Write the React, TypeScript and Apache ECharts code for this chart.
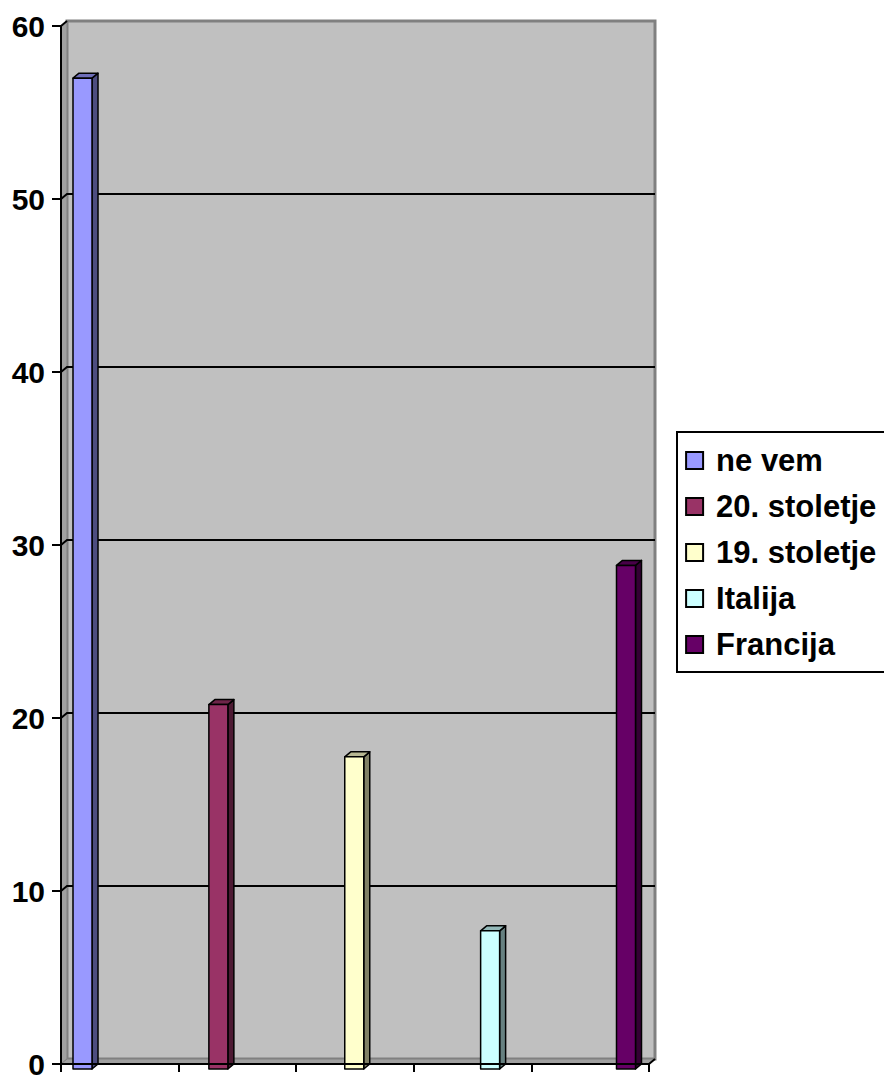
import React, { useEffect, useRef } from 'react';
import * as echarts from 'echarts';

const categories = ['ne vem', '20. stoletje', '19. stoletje', 'Italija', 'Francija'];
const values = [57, 21, 18, 8, 29];
const colors = ['#9999FF', '#993366', '#FFFFCC', '#CCFFFF', '#660066'];
const gridValues = [10, 20, 30, 40, 50];

const DX = 6;
const DY = -5;
const BAR_W = 19;
const FONT = '"Liberation Sans", Arial, sans-serif';

function shade(hex: string, f: number): string {
  const n = parseInt(hex.slice(1), 16);
  const r = Math.round(((n >> 16) & 255) * f);
  const g = Math.round(((n >> 8) & 255) * f);
  const b = Math.round((n & 255) * f);
  return 'rgb(' + r + ',' + g + ',' + b + ')';
}

export default function App() {
  const ref = useRef<HTMLDivElement>(null);
  useEffect(() => {
    document.body.style.margin = '0';
    const chart = echarts.init(ref.current!, null, { renderer: 'svg' });

    const wallSeries: any = {
      type: 'custom',
      xAxisIndex: 0,
      yAxisIndex: 0,
      z: 1,
      silent: true,
      clip: false,
      data: [[0, 0]],
      renderItem: (params: any, api: any) => {
        const cs = params.coordSys;
        const x0 = cs.x;
        const x1 = cs.x + cs.width;
        const yT = cs.y;
        const yB = cs.y + cs.height;
        const children: any[] = [];
        children.push({
          type: 'rect',
          shape: { x: x0 + DX, y: yT + DY, width: cs.width, height: cs.height },
          style: { fill: '#C0C0C0', stroke: '#808080', lineWidth: 3 },
        });
        children.push({
          type: 'polygon',
          shape: { points: [[x0, yT], [x0 + DX, yT + DY], [x0 + DX, yB + DY], [x0, yB]] },
          style: { fill: '#A0A0A0', stroke: '#808080', lineWidth: 1 },
        });
        children.push({
          type: 'polygon',
          shape: { points: [[x0, yB], [x0 + DX, yB + DY], [x1 + DX, yB + DY], [x1, yB]] },
          style: { fill: '#A0A0A0', stroke: '#808080', lineWidth: 1 },
        });
        gridValues.forEach((v) => {
          const y = api.coord([0, v])[1];
          children.push({
            type: 'polyline',
            shape: { points: [[x0, y], [x0 + DX, y + DY], [x1 + DX, y + DY]] },
            style: { stroke: '#000', lineWidth: 2, fill: 'none' },
          });
        });
        children.push({
          type: 'line',
          shape: { x1: x0, y1: yT, x2: x0 + DX, y2: yT + DY },
          style: { stroke: '#000', lineWidth: 2 },
        });
        children.push({
          type: 'line',
          shape: { x1: x1, y1: yB, x2: x1 + DX, y2: yB + DY },
          style: { stroke: '#000', lineWidth: 2 },
        });
        return { type: 'group', children };
      },
    };

    const barSeries: any[] = categories.map((name, i) => ({
      type: 'custom',
      name,
      xAxisIndex: 1,
      yAxisIndex: 1,
      z: 3,
      clip: false,
      itemStyle: { color: colors[i], borderColor: '#000', borderWidth: 2 },
      data: [[i, values[i]]],
      renderItem: (params: any, api: any) => {
        const idx = api.value(0);
        const v = api.value(1);
        const top = api.coord([idx, v]);
        const bot = api.coord([idx, 0]);
        const xl = top[0] - BAR_W / 2;
        const xr = top[0] + BAR_W / 2;
        const yt = top[1];
        const yb = bot[1] - 1;
        const c = colors[i];
        const edge = { stroke: '#000', lineWidth: 1.5, lineJoin: 'round' };
        return {
          type: 'group',
          children: [
            {
              type: 'polygon',
              shape: { points: [[xr, yt], [xr + DX, yt + DY], [xr + DX, yb + DY], [xr, yb]] },
              style: { fill: shade(c, 0.5), ...edge },
            },
            {
              type: 'polygon',
              shape: { points: [[xl, yt], [xl + DX, yt + DY], [xr + DX, yt + DY], [xr, yt]] },
              style: { fill: shade(c, 0.72), ...edge },
            },
            {
              type: 'rect',
              shape: { x: xl, y: yt, width: BAR_W, height: yb - yt },
              style: { fill: c, ...edge },
            },
          ],
        };
      },
    }));

    const rich: any = {
      t: {
        fontSize: 31,
        fontWeight: 'bold',
        color: '#000',
        fontFamily: FONT,
        lineHeight: 30,
        padding: [0, 0, 0, 14],
      },
    };
    categories.forEach((_, i) => {
      rich['b' + i] = {
        width: 15,
        height: 15,
        backgroundColor: colors[i],
        borderColor: '#000',
        borderWidth: 2,
      };
    });

    const option: any = {
      animation: false,
      backgroundColor: '#ffffff',
      grid: [
        { left: 61, right: 235, top: 26, bottom: 9 },
        { left: 82.5, right: 258, top: 26, bottom: 9 },
      ],
      xAxis: [
        {
          gridIndex: 0,
          type: 'value',
          min: 0,
          max: 5,
          interval: 1,
          z: 5,
          axisLine: { show: true, lineStyle: { color: '#000', width: 2 } },
          axisTick: { show: true, length: 8, lineStyle: { color: '#000', width: 2 } },
          axisLabel: { show: false },
          splitLine: { show: false },
        },
        {
          gridIndex: 1,
          type: 'category',
          data: categories,
          boundaryGap: false,
          show: false,
        },
      ],
      yAxis: [
        {
          gridIndex: 0,
          type: 'value',
          min: 0,
          max: 60,
          interval: 10,
          z: 5,
          axisLine: { show: true, lineStyle: { color: '#000', width: 2 } },
          axisTick: { show: true, length: 9, lineStyle: { color: '#000', width: 2 } },
          axisLabel: {
            fontSize: 30,
            fontWeight: 'bold',
            color: '#000',
            fontFamily: FONT,
            margin: 16,
            padding: [0, 0, 5, 0],
          },
          splitLine: { show: false },
        },
        {
          gridIndex: 1,
          type: 'value',
          min: 0,
          max: 60,
          show: false,
        },
      ],
      legend: {
        orient: 'vertical',
        left: 677,
        top: 432,
        data: categories,
        icon: 'rect',
        itemWidth: 0.1,
        itemHeight: 17,
        itemGap: 15,
        padding: [13, 12, 12, 4],
        backgroundColor: '#ffffff',
        borderColor: '#000',
        borderWidth: 2,
        selectedMode: false,
        itemStyle: { opacity: 0 },
        formatter: (name: string) => '{b' + categories.indexOf(name) + '|}{t|' + name + '}',
        textStyle: {
          fontSize: 31,
          fontWeight: 'bold',
          color: '#000',
          fontFamily: FONT,
          lineHeight: 30,
          rich,
        },
      },
      series: [wallSeries, ...barSeries],
    };

    chart.setOption(option);
    return () => chart.dispose();
  }, []);

  return <div ref={ref} style={{ width: 884, height: 1079 }} />;
}
